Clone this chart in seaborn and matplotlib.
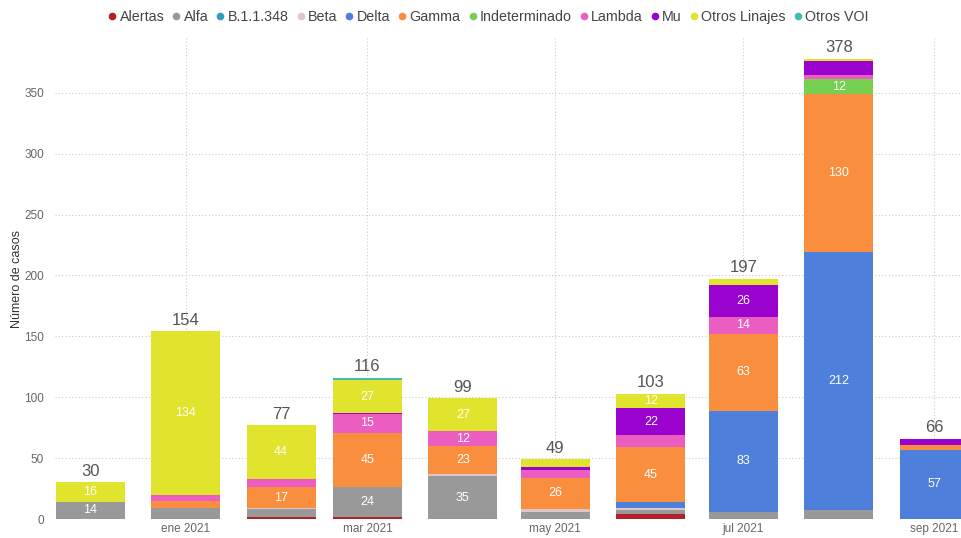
import numpy as np
import pandas as pd
import matplotlib
matplotlib.use("Agg")
import matplotlib.pyplot as plt
import seaborn as sns
from matplotlib.lines import Line2D

# ---- data ----
month_days = [0, 31, 62, 90, 121, 151, 182, 212, 243, 274]  # days since 2020-12-01
tick_days = [31, 90, 151, 212, 274]
tick_labels = ["ene 2021", "mar 2021", "may 2021", "jul 2021", "sep 2021"]

variants = ["Alertas", "Alfa", "B.1.1.348", "Beta", "Delta", "Gamma",
            "Indeterminado", "Lambda", "Mu", "Otros Linajes", "Otros VOI"]
colors = ["#B3202A", "#999999", "#2E9FBF", "#DCC5CB", "#4E7FDB", "#F98E3F",
          "#76CF4E", "#EC5DC2", "#9A03CE", "#E1E42C", "#3DBFB3"]

alertas       = [0, 0, 2, 2, 0, 0, 4, 0, 0, 0]
alfa          = [14, 9, 6, 24, 35, 6, 3, 6, 7, 0]
b11348        = [0, 0, 0, 0, 0, 0, 0, 0, 0, 0]
beta          = [0, 0, 1, 0, 2, 2, 2, 0, 0, 0]
delta         = [0, 0, 0, 0, 0, 0, 5, 83, 212, 57]
gamma         = [0, 6, 17, 45, 23, 26, 45, 63, 130, 4]
indeterminado = [0, 0, 0, 0, 0, 0, 0, 0, 12, 0]
lambda_       = [0, 5, 7, 15, 12, 6, 10, 14, 4, 0]
mu            = [0, 0, 0, 1, 0, 3, 22, 26, 11, 5]
otros_linajes = [16, 134, 44, 27, 27, 6, 12, 5, 2, 0]
otros_voi     = [0, 0, 0, 2, 0, 0, 0, 0, 0, 0]

series = [alertas, alfa, b11348, beta, delta, gamma, indeterminado,
          lambda_, mu, otros_linajes, otros_voi]

# ---- figure ----
sns.set_theme(style="white")
plt.rcParams["font.family"] = ["Liberation Sans", "DejaVu Sans"]

fig = plt.figure(figsize=(9.62, 5.38), dpi=100)
ax = fig.add_axes([55 / 962, 19 / 538, 907 / 962, (519 - 38) / 538])

vals = np.array(series, dtype=float)
cum = np.cumsum(vals, axis=0)
bottoms = cum - vals
totals = cum[-1]

# draw from the top layer down so lower layers cover upper cumulative bars
for i in range(len(variants) - 1, -1, -1):
    df = pd.DataFrame({"day": month_days, "val": cum[i]})
    sns.barplot(data=df, x="day", y="val", color=colors[i], native_scale=True,
                width=0.8, errorbar=None, saturation=1, linewidth=0, ax=ax)

# segment labels
for i in range(len(variants)):
    for j, d in enumerate(month_days):
        v = vals[i, j]
        if v >= 12:
            ax.text(d, bottoms[i, j] + v / 2, f"{int(v)}", ha="center", va="center",
                    color="white", fontsize=9)
# totals
for j, d in enumerate(month_days):
    ax.text(d, totals[j] + 3, f"{int(totals[j])}", ha="center", va="bottom",
            color="#555555", fontsize=12)

ax.set_xlim(-11.4, 283)
ax.set_ylim(0, 395)
ax.set_xticks(tick_days)
ax.set_xticklabels(tick_labels)
ax.set_yticks([0, 50, 100, 150, 200, 250, 300, 350])
ax.tick_params(axis="both", length=0, colors="#666666", labelsize=8.5)
ax.tick_params(axis="y", pad=8)
ax.tick_params(axis="x", pad=3)
ax.set_xlabel("")
ax.set_ylabel("Número de casos", fontsize=9, color="#333333", labelpad=1)
for s in ax.spines.values():
    s.set_visible(False)
ax.grid(True, axis="both", linestyle=(0, (1, 2)), color="#cccccc", linewidth=0.8)
ax.set_axisbelow(True)

handles = [Line2D([0], [0], marker="o", linestyle="", markersize=5.5,
                  markerfacecolor=c, markeredgewidth=0, color=c) for c in colors]
fig.legend(handles, variants, loc="upper center", bbox_to_anchor=(0.506, 1.005),
           ncol=len(variants), frameon=False, fontsize=10.3, handletextpad=0.0,
           columnspacing=0.35, handlelength=1.0, labelcolor="#444444")

fig.savefig("out.png", dpi=100)
